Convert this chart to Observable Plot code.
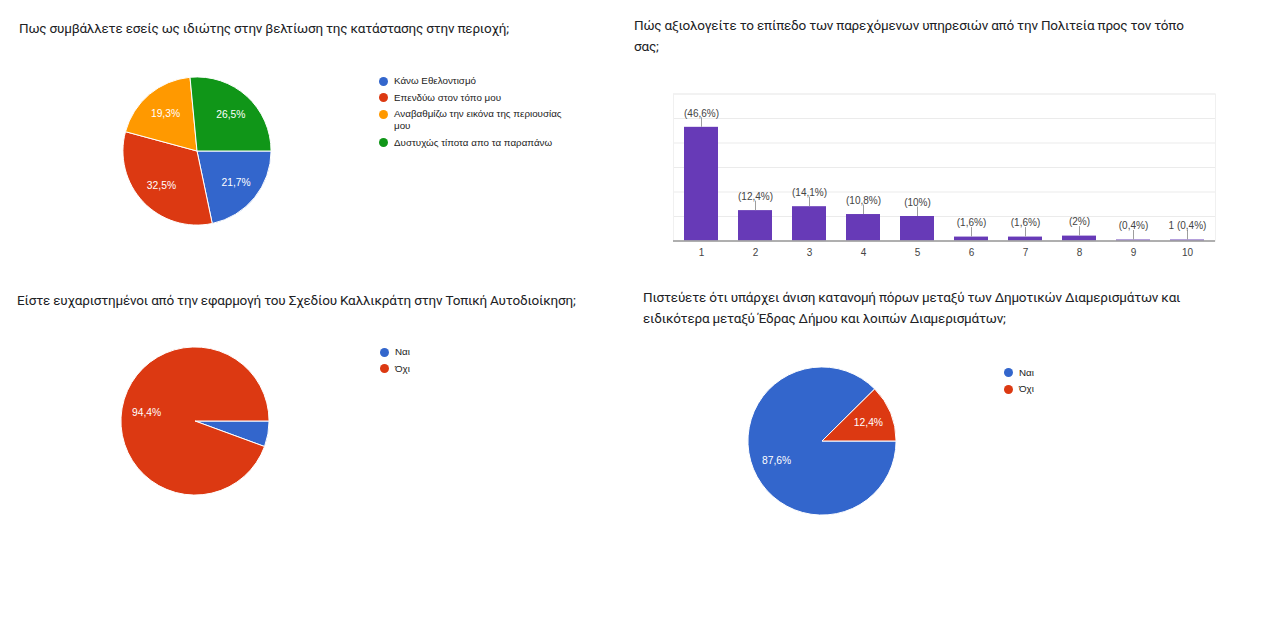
<!DOCTYPE html>
<html><head><meta charset="utf-8">
<script src="https://cdn.jsdelivr.net/npm/d3@7"></script>
<script src="https://cdn.jsdelivr.net/npm/@observablehq/plot@0.6"></script>
<style>
body{margin:0;background:#fff;}
#root{position:relative;width:1276px;height:628px;overflow:hidden;background:#fff;}
.title{position:absolute;font-family:Roboto, sans-serif;font-size:13.5px;letter-spacing:-0.2px;line-height:21px;color:#202124;white-space:pre;}
.legend{position:absolute;font-family:"Liberation Sans", Arial, sans-serif;font-size:9.8px;color:#222;}
.legend .item{display:flex;align-items:flex-start;line-height:12px;margin-bottom:4.5px;}
.legend .sw{width:9px;height:9px;border-radius:50%;flex:none;margin-top:1.5px;margin-right:6.5px;}
.chart{position:absolute;}
</style></head><body><div id="root"></div>
<script>
// ---------- data ----------
const pieColors = ["#3366cc", "#dc3912", "#ff9900", "#109618"];
const barColor = "#673ab7";

const q1Title = "Πως συμβάλλετε εσείς ως ιδιώτης στην βελτίωση της κατάστασης στην περιοχή;";
const q1Categories = ["Κάνω Εθελοντισμό", "Επενδύω στον τόπο μου", "Αναβαθμίζω την εικόνα της περιουσίας μου", "Δυστυχώς τίποτα απο τα παραπάνω"];
const q1Values = [21.7, 32.5, 19.3, 26.5];

const q2Title = "Πώς αξιολογείτε το επίπεδο των παρεχόμενων υπηρεσιών από την Πολιτεία προς τον τόπο\nσας;";
const q2Ratings = ["1", "2", "3", "4", "5", "6", "7", "8", "9", "10"];
const q2Counts = [116, 31, 35, 27, 25, 4, 4, 5, 1, 1];
const q2Labels = ["(46,6%)", "(12,4%)", "(14,1%)", "(10,8%)", "(10%)", "(1,6%)", "(1,6%)", "(2%)", "(0,4%)", "1 (0,4%)"];
const q2GridTicks = [0, 25, 50, 75, 100, 125, 150];

const q3Title = "Είστε ευχαριστημένοι από την εφαρμογή του Σχεδίου Καλλικράτη στην Τοπική Αυτοδιοίκηση;";
const q3Categories = ["Ναι", "Όχι"];
const q3Values = [5.6, 94.4];

const q4Title = "Πιστεύετε ότι υπάρχει άνιση κατανομή πόρων μεταξύ των Δημοτικών Διαμερισμάτων και\nειδικότερα μεταξύ Έδρας Δήμου και λοιπών Διαμερισμάτων;";
const q4Categories = ["Ναι", "Όχι"];
const q4Values = [87.6, 12.4];

// ---------- helpers ----------
const root = document.getElementById("root");
const fmtPct = v => String(v).replace(".", ",") + "%";

function addTitle(text, left, top) {
  const d = document.createElement("div");
  d.className = "title";
  d.style.left = left + "px"; d.style.top = top + "px";
  d.textContent = text;
  root.appendChild(d);
}

function addLegend(cats, colors, left, top, width) {
  const d = document.createElement("div");
  d.className = "legend";
  d.style.left = left + "px"; d.style.top = top + "px"; d.style.width = width + "px";
  cats.forEach((c, i) => {
    const it = document.createElement("div"); it.className = "item";
    const sw = document.createElement("span"); sw.className = "sw"; sw.style.background = colors[i];
    const tx = document.createElement("span"); tx.textContent = c;
    it.appendChild(sw); it.appendChild(tx); d.appendChild(it);
  });
  root.appendChild(d);
}

function addPie(cats, vals, colors, left, top) {
  const data = cats.map((c, i) => ({cat: c, value: vals[i], color: colors[i]}));
  const arcs = d3.pie().sort(null).value(d => d.value)
    .startAngle(Math.PI / 2).endAngle(Math.PI / 2 + 2 * Math.PI)(data);
  const labelR = 0.67;
  const labels = arcs.filter(a => a.data.value >= 10).map(a => {
    const m = (a.startAngle + a.endAngle) / 2;
    return {x: labelR * Math.sin(m), y: labelR * Math.cos(m), text: fmtPct(a.data.value)};
  });
  const S = 160, D = 1.08;
  const chart = Plot.plot({
    width: S, height: S, margin: 0,
    style: {background: "transparent", overflow: "visible"},
    x: {domain: [-D, D], axis: null},
    y: {domain: [-D, D], axis: null},
    marks: [
      (index, scales, values, dims) => {
        const sx = scales && scales.x ? scales.x : (v => (v + D) / (2 * D) * dims.width);
        const sy = scales && scales.y ? scales.y : (v => (D - v) / (2 * D) * dims.height);
        const r = Math.abs(sx(1) - sx(0));
        const g = d3.create("svg:g").attr("transform", `translate(${sx(0)},${sy(0)})`);
        g.selectAll("path").data(arcs).join("path")
          .attr("d", d3.arc().innerRadius(0).outerRadius(r))
          .attr("fill", d => d.data.color)
          .attr("stroke", "#fff").attr("stroke-width", 1);
        return g.node();
      },
      Plot.text(labels, {x: "x", y: "y", text: "text", fill: "white", fontSize: 10.3,
        fontFamily: "Liberation Sans, Arial, sans-serif"})
    ]
  });
  chart.classList.add("chart");
  chart.style.left = left + "px"; chart.style.top = top + "px";
  root.appendChild(chart);
}

// ---------- panel 1 ----------
addTitle(q1Title, 19, 17.5);
addPie(q1Categories, q1Values, pieColors, 117, 71);
addLegend(q1Categories, pieColors, 378.5, 75, 190);

// ---------- panel 2: bar chart ----------
addTitle(q2Title, 634, 14.5);
const barData = q2Ratings.map((r, i) => ({rating: r, count: q2Counts[i], label: q2Labels[i]}));
const bar = Plot.plot({
  width: 570, height: 190,
  marginLeft: 13, marginRight: 15, marginTop: 18.5, marginBottom: 24.5,
  style: {fontFamily: "Liberation Sans, Arial, sans-serif", fontSize: "10px", color: "#444", background: "transparent", overflow: "visible"},
  x: {domain: q2Ratings, paddingInner: 0.37, paddingOuter: 0.185, axis: null},
  y: {domain: [0, 150], axis: null},
  marks: [
    Plot.ruleY(q2GridTicks, {stroke: "#ebebeb"}),
    Plot.frame({stroke: "#f0f0f0"}),
    Plot.barY(barData, {x: "rating", y: "count", fill: barColor}),
    Plot.ruleX(barData, {x: "rating", y1: "count", y2: d => d.count + 9.7, stroke: "#9e9e9e"}),
    Plot.text(barData, {x: "rating", y: "count", text: "label", dy: -14, fill: "#444"}),
    Plot.ruleY([0], {stroke: "#999", strokeWidth: 1.5}),
    Plot.axisX({tickSize: 0, tickPadding: 8, fill: "#444", label: null})
  ]
});
bar.classList.add("chart");
bar.style.left = "660px"; bar.style.top = "75px";
root.appendChild(bar);

// ---------- panel 3 ----------
addTitle(q3Title, 17, 289.5);
addPie(q3Categories, q3Values, pieColors, 115, 340.5);
addLegend(q3Categories, pieColors, 379.5, 346, 100);

// ---------- panel 4 ----------
addTitle(q4Title, 643, 287);
addPie(q4Categories, q4Values, pieColors, 742, 361);
addLegend(q4Categories, pieColors, 1003.5, 366.5, 100);
</script>
</body></html>
